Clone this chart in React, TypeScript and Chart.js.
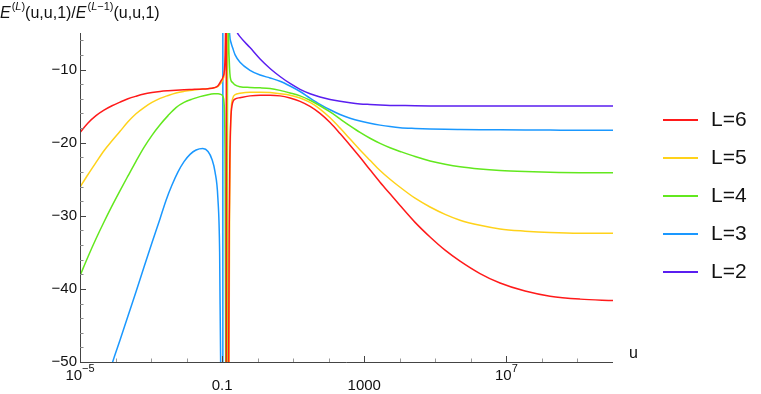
import React, { useEffect, useRef } from "react";
import { Chart, registerables } from "chart.js";

Chart.register(...registerables);

// ---------- data ----------
const seriesLabels = ["L=6", "L=5", "L=4", "L=3", "L=2"];
const seriesColors = ["#ff1a1a", "#ffd21a", "#62e81e", "#1a98ff", "#5a1ef0"];

// shared u samples left of the poles and right of the poles
const uLeft = [1e-5, 1.68e-5, 2.82e-5, 4.73e-5, 7.96e-5, 1.34e-4, 2.24e-4, 3.77e-4, 6.33e-4, 1.06e-3, 1.79e-3, 3.0e-3, 5.04e-3, 8.46e-3, 0.0142, 0.0238, 0.0401, 0.059, 0.0766];
const uRight = [0.318, 0.609, 1.17, 2.23, 4.26, 8.15, 15.6, 29.8, 56.9, 109, 208, 398, 761, 1450, 2780, 5310, 10200, 26900, 71000, 188000, 496000, 1.81e6, 6.62e6, 3.35e7, 1.69e8, 1.18e9, 1e10];

// L=6
const yL6Left = [-18.6, -17.3, -16.3, -15.55, -14.95, -14.45, -14.0, -13.65, -13.35, -13.15, -13.0, -12.9, -12.82, -12.76, -12.72, -12.68, -12.62, -12.5, -12.2];
const uL6Pole = [0.0915, 0.106, 0.116, 0.122, 0.126, 0.129, 0.1305, 0.1315, 0.14, 0.15, 0.158, 0.165, 0.175, 0.19, 0.23];
const yL6Pole = [-11.6, -11.0, -10.1, -8, -4, 10, 400, -400, -150, -60, -32, -22, -17, -14.9, -14.05];
const yL6Right = [-13.85, -13.6, -13.5, -13.5, -13.6, -13.9, -14.35, -15.05, -16.0, -17.25, -18.75, -20.35, -22.0, -23.7, -25.4, -27.0, -28.6, -30.9, -32.9, -34.7, -36.2, -37.9, -39.2, -40.3, -41.0, -41.4, -41.6];

// L=5
const yL5Left = [-26.1, -24.35, -22.7, -21.1, -19.75, -18.45, -17.15, -16.05, -15.2, -14.5, -13.95, -13.55, -13.2, -12.98, -12.82, -12.7, -12.62, -12.5, -12.3];
const uL5Pole = [0.0915, 0.106, 0.116, 0.123, 0.128, 0.132, 0.135, 0.136, 0.145, 0.155, 0.162, 0.17, 0.18, 0.2, 0.23];
const yL5Pole = [-11.9, -11.3, -10.5, -8, -3, 20, 400, -400, -120, -55, -30, -20, -15.5, -13.9, -13.45];
const yL5Right = [-13.25, -13.1, -13.1, -13.15, -13.3, -13.5, -13.9, -14.5, -15.4, -16.6, -18.0, -19.5, -21.0, -22.4, -23.8, -25.0, -26.1, -27.6, -28.8, -29.8, -30.6, -31.3, -31.8, -32.1, -32.3, -32.4, -32.4];

// L=4
const yL4Left = [-38.2, -35.6, -33.15, -30.85, -28.65, -26.55, -24.55, -22.55, -20.65, -19.0, -17.55, -16.3, -15.2, -14.5, -14.05, -13.7, -13.45, -13.32, -13.3];
const uL4Pole = [0.0915, 0.106, 0.113, 0.118, 0.122, 0.126, 0.133, 0.1405, 0.1415, 0.146, 0.15, 0.153, 0.158, 0.165, 0.175, 0.2, 0.23];
const yL4Pole = [-13.4, -13.7, -14.5, -17, -25, -50, -150, -800, 800, 60, 10, -5, -8.5, -10.5, -11.4, -11.8, -12.1];
const yL4Right = [-12.35, -12.45, -12.5, -12.6, -12.85, -13.2, -13.6, -14.2, -14.95, -15.8, -16.75, -17.7, -18.6, -19.4, -20.1, -20.7, -21.2, -21.9, -22.5, -22.95, -23.3, -23.6, -23.8, -23.95, -24.05, -24.1, -24.1];

// L=3
const uL3Left = [4.73e-5, 8.3e-5, 1.34e-4, 2.24e-4, 3.77e-4, 6.33e-4, 1.06e-3, 1.79e-3, 2.63e-3, 3.88e-3, 5.73e-3, 8.46e-3, 0.0125, 0.0185, 0.0286, 0.0401, 0.0519, 0.0631, 0.0757, 0.0851, 0.0908, 0.098, 0.1046, 0.1048, 0.11, 0.12, 0.135, 0.15, 0.163, 0.18, 0.2, 0.232];
const yL3Left = [-54.3, -50, -47.0, -43.7, -40.4, -37.0, -33.7, -30.4, -27.9, -25.8, -24.0, -22.6, -21.6, -21.0, -20.8, -21.2, -22.3, -24.0, -27.5, -35, -50, -120, -3000, 3000, 300, 60, 10, -1, -5.2, -6.4, -7.1, -8.0];
const yL3Right = [-9.0, -10.1, -10.75, -11.15, -11.6, -12.25, -13.0, -13.9, -14.75, -15.5, -16.15, -16.65, -17.05, -17.35, -17.6, -17.8, -17.95, -18.05, -18.12, -18.17, -18.2, -18.23, -18.25, -18.27, -18.28, -18.3, -18.3];

// L=2
const uL2Start = [0.15, 0.2, 0.23, 0.259];
const yL2Start = [20, -2.5, -4.2, -4.85];
const yL2Right = [-5.5, -7.0, -8.55, -9.85, -10.95, -11.9, -12.7, -13.3, -13.75, -14.1, -14.35, -14.55, -14.7, -14.78, -14.85, -14.9, -14.92, -14.95, -14.97, -14.98, -14.99, -15.0, -15.0, -15.0, -15.0, -15.0, -15.0];

const seriesU = [
  [...uLeft, ...uL6Pole, ...uRight],
  [...uLeft, ...uL5Pole, ...uRight],
  [...uLeft, ...uL4Pole, ...uRight],
  [...uL3Left, ...uRight],
  [...uL2Start, ...uRight],
];
const seriesY = [
  [...yL6Left, ...yL6Pole, ...yL6Right],
  [...yL5Left, ...yL5Pole, ...yL5Right],
  [...yL4Left, ...yL4Pole, ...yL4Right],
  [...yL3Left, ...yL3Right],
  [...yL2Start, ...yL2Right],
];

const xMin = 1e-5;
const xMax = 1e10;
const yMin = -50;
const yMax = -5;

const yMajorTicks = [-10, -20, -30, -40, -50];
const yMajorLabels = ["\u221210", "\u221220", "\u221230", "\u221240", "\u221250"];
const yMinorTicks = [-6, -8, -12, -14, -16, -18, -22, -24, -26, -28, -32, -34, -36, -38, -42, -44, -46, -48];

const xMajorTicks = [1e-5, 0.1, 1000, 1e7];
const xMajorBase = ["10", "0.1", "1000", "10"];
const xMajorExp = ["\u22125", "", "", "7"];
const xMinorTicks = [1e-4, 1e-3, 1e-2, 1, 10, 100, 1e4, 1e5, 1e6, 1e8, 1e9];

const FONT = '"Liberation Sans", Arial, Helvetica, sans-serif';

const axesPlugin = {
  id: "mmaAxes",
  afterDraw(chart: any) {
    const ctx = chart.ctx as CanvasRenderingContext2D;
    const xs = chart.scales.x;
    const ys = chart.scales.y;
    const x0 = xs.getPixelForValue(xMin);
    const x1 = xs.getPixelForValue(xMax);
    const yb = ys.getPixelForValue(yMin);
    const yt = ys.getPixelForValue(yMax);
    ctx.save();
    // axes
    ctx.strokeStyle = "#444";
    ctx.lineWidth = 1;
    ctx.beginPath();
    ctx.moveTo(x0 + 0.5, yt);
    ctx.lineTo(x0 + 0.5, yb + 0.5);
    ctx.lineTo(x1, yb + 0.5);
    ctx.stroke();
    // y ticks
    for (const v of yMajorTicks) {
      const y = Math.round(ys.getPixelForValue(v)) + 0.5;
      ctx.strokeStyle = "#444";
      ctx.beginPath();
      ctx.moveTo(x0, y);
      ctx.lineTo(x0 + 6, y);
      ctx.stroke();
    }
    for (const v of yMinorTicks) {
      const y = Math.round(ys.getPixelForValue(v)) + 0.5;
      ctx.strokeStyle = "#888";
      ctx.beginPath();
      ctx.moveTo(x0, y);
      ctx.lineTo(x0 + 3.5, y);
      ctx.stroke();
    }
    // x ticks
    for (const v of xMajorTicks) {
      const x = Math.round(xs.getPixelForValue(v)) + 0.5;
      ctx.strokeStyle = "#444";
      ctx.beginPath();
      ctx.moveTo(x, yb);
      ctx.lineTo(x, yb - 6);
      ctx.stroke();
    }
    for (const v of xMinorTicks) {
      const x = Math.round(xs.getPixelForValue(v)) + 0.5;
      ctx.strokeStyle = "#999";
      ctx.beginPath();
      ctx.moveTo(x, yb);
      ctx.lineTo(x, yb - 3.5);
      ctx.stroke();
    }
    // y labels
    ctx.fillStyle = "#111";
    ctx.font = `15px ${FONT}`;
    ctx.textAlign = "right";
    ctx.textBaseline = "middle";
    yMajorTicks.forEach((v, i) => {
      ctx.fillText(yMajorLabels[i], x0 - 3, ys.getPixelForValue(v));
    });
    // x labels
    ctx.textBaseline = "alphabetic";
    xMajorTicks.forEach((v, i) => {
      const cx = xs.getPixelForValue(v);
      const base = xMajorBase[i];
      const exp = xMajorExp[i];
      ctx.font = `15px ${FONT}`;
      const wb = ctx.measureText(base).width;
      ctx.font = `11px ${FONT}`;
      const we = exp ? ctx.measureText(exp).width : 0;
      const start = cx - (wb + we) / 2;
      ctx.textAlign = "left";
      if (exp) {
        ctx.font = `15px ${FONT}`;
        ctx.fillText(base, start, yb + 18);
        ctx.font = `11px ${FONT}`;
        ctx.fillText(exp, start + wb, yb + 10);
      } else {
        ctx.font = `15px ${FONT}`;
        ctx.fillText(base, start, yb + 28);
      }
    });
    // axis label u
    ctx.font = `16px ${FONT}`;
    ctx.textAlign = "left";
    ctx.textBaseline = "middle";
    ctx.fillText("u", x1 + 16, yb - 8);

    // y-axis title: E^(L)(u,u,1)/E^(L-1)(u,u,1)
    const segs: [string, boolean, boolean][] = [
      ["E", true, false],
      ["(", false, true],
      ["L", true, true],
      [")", false, true],
      ["(u,u,1)/", false, false],
      ["E", true, false],
      ["(", false, true],
      ["L", true, true],
      ["\u22121)", false, true],
      ["(u,u,1)", false, false],
    ];
    let tx = 0;
    ctx.textAlign = "left";
    ctx.textBaseline = "alphabetic";
    for (const [t, it, sup] of segs) {
      ctx.font = `${it ? "italic " : ""}${sup ? 11 : 16}px ${FONT}`;
      ctx.fillText(t, tx, sup ? 10 : 18);
      tx += ctx.measureText(t).width + (it && !sup ? 1 : 0);
    }

    // legend
    const lx = 663;
    const ly = 120;
    const gap = 38;
    seriesLabels.forEach((lab, i) => {
      const y = ly + i * gap;
      ctx.strokeStyle = seriesColors[i];
      ctx.lineWidth = 2;
      ctx.beginPath();
      ctx.moveTo(lx, y);
      ctx.lineTo(lx + 35, y);
      ctx.stroke();
      ctx.fillStyle = "#111";
      ctx.font = `21px ${FONT}`;
      ctx.textBaseline = "middle";
      ctx.fillText(lab, lx + 48, y);
    });
    ctx.restore();
  },
};

export default function App() {
  const ref = useRef<HTMLCanvasElement | null>(null);
  useEffect(() => {
    document.body.style.margin = "0";
    const canvas = ref.current;
    if (!canvas) return;
    const datasets = seriesLabels.map((label, i) => ({
      label,
      data: seriesU[i].map((u, j) => ({ x: u, y: seriesY[i][j] })),
      borderColor: seriesColors[i],
      backgroundColor: seriesColors[i],
      borderWidth: 1.5,
      pointRadius: 0,
      fill: false,
      cubicInterpolationMode: "monotone" as const,
    }));
    const chart = new Chart(canvas, {
      type: "line",
      data: { datasets },
      options: {
        responsive: false,
        animation: false,
        layout: { padding: { left: 80, right: 148, top: 33, bottom: 32 } },
        scales: {
          x: { type: "logarithmic", min: xMin, max: xMax, display: false },
          y: { type: "linear", min: yMin, max: yMax, display: false },
        },
        plugins: { legend: { display: false }, tooltip: { enabled: false } },
        events: [],
      },
      plugins: [axesPlugin],
    });
    return () => chart.destroy();
  }, []);
  return (
    <div style={{ width: 761, height: 394, background: "#fff" }}>
      <canvas ref={ref} width={761} height={394} style={{ display: "block" }} />
    </div>
  );
}
